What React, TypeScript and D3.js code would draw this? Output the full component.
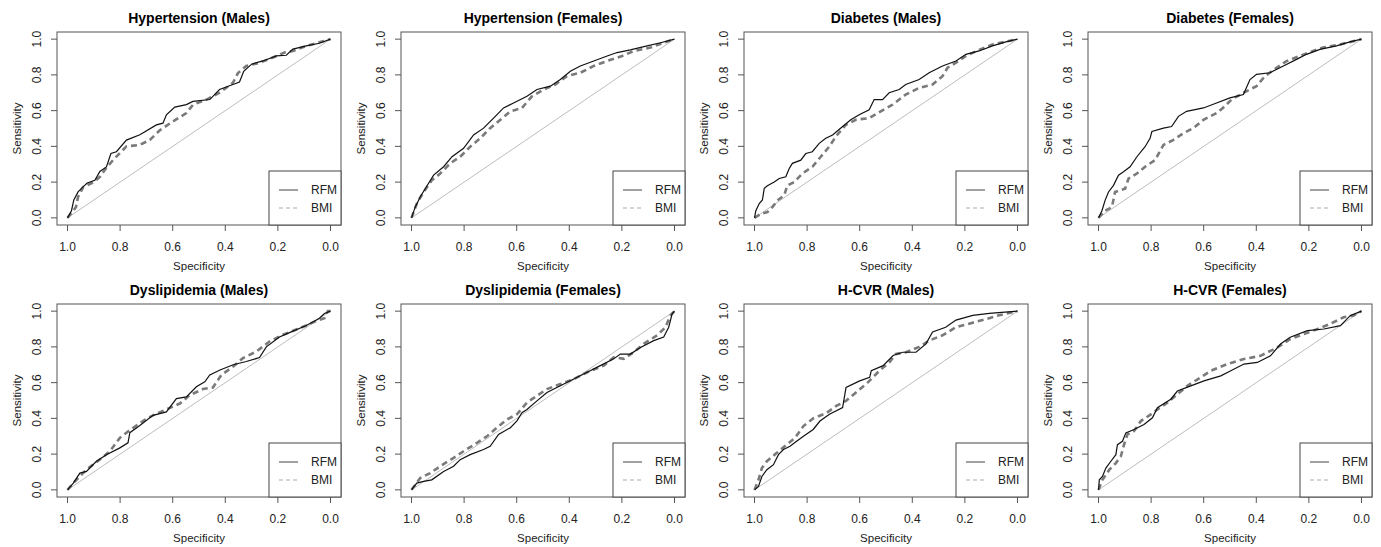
import React from "react";
import * as d3 from "d3";

type Pt = [number, number];

const titles = [
  "Hypertension (Males)", "Hypertension (Females)", "Diabetes (Males)", "Diabetes (Females)",
  "Dyslipidemia (Males)", "Dyslipidemia (Females)", "H-CVR (Males)", "H-CVR (Females)",
];
const seriesNames = ["RFM", "BMI"];
const xTicks = [1.0, 0.8, 0.6, 0.4, 0.2, 0.0];
const yTicks = [0.0, 0.2, 0.4, 0.6, 0.8, 1.0];

// [specificity, sensitivity]
const rfmHtnM: Pt[] = [[1,0],[0.985,0.04],[0.976,0.10],[0.96,0.145],[0.947,0.165],[0.925,0.195],[0.896,0.21],[0.877,0.26],[0.852,0.285],[0.835,0.36],[0.814,0.37],[0.776,0.435],[0.725,0.465],[0.662,0.52],[0.637,0.53],[0.624,0.577],[0.592,0.62],[0.548,0.634],[0.523,0.652],[0.459,0.662],[0.422,0.718],[0.371,0.746],[0.346,0.76],[0.33,0.82],[0.3,0.86],[0.257,0.878],[0.206,0.906],[0.168,0.91],[0.143,0.944],[0.092,0.962],[0.042,0.977],[0,1]];
const bmiHtnM: Pt[] = [[1,0],[0.978,0.04],[0.968,0.06],[0.96,0.117],[0.94,0.173],[0.9,0.2],[0.877,0.23],[0.854,0.276],[0.827,0.323],[0.776,0.4],[0.725,0.408],[0.687,0.436],[0.649,0.49],[0.599,0.54],[0.548,0.586],[0.523,0.633],[0.472,0.662],[0.422,0.7],[0.371,0.756],[0.352,0.81],[0.32,0.85],[0.27,0.868],[0.219,0.897],[0.175,0.925],[0.143,0.934],[0.092,0.962],[0,1]];
const rfmHtnF: Pt[] = [[1,0],[0.986,0.06],[0.967,0.117],[0.944,0.173],[0.916,0.239],[0.878,0.286],[0.846,0.342],[0.802,0.389],[0.764,0.464],[0.726,0.502],[0.688,0.558],[0.65,0.615],[0.612,0.643],[0.561,0.68],[0.523,0.718],[0.472,0.737],[0.434,0.774],[0.396,0.82],[0.358,0.85],[0.307,0.878],[0.256,0.906],[0.218,0.925],[0.168,0.94],[0.104,0.962],[0.053,0.98],[0,1]];
const bmiHtnF: Pt[] = [[1,0],[0.98,0.08],[0.954,0.145],[0.923,0.21],[0.891,0.248],[0.853,0.305],[0.815,0.342],[0.777,0.398],[0.739,0.445],[0.701,0.502],[0.662,0.549],[0.624,0.596],[0.58,0.615],[0.542,0.68],[0.497,0.718],[0.453,0.746],[0.409,0.793],[0.358,0.812],[0.307,0.85],[0.256,0.878],[0.199,0.906],[0.155,0.934],[0.091,0.953],[0.041,0.98],[0,1]];
const rfmDiaM: Pt[] = [[1,0],[0.995,0.04],[0.982,0.08],[0.97,0.1],[0.963,0.165],[0.951,0.18],[0.925,0.2],[0.906,0.22],[0.881,0.23],[0.868,0.276],[0.856,0.305],[0.824,0.323],[0.805,0.36],[0.78,0.37],[0.754,0.417],[0.729,0.445],[0.703,0.464],[0.665,0.511],[0.634,0.549],[0.602,0.577],[0.564,0.605],[0.545,0.662],[0.513,0.662],[0.488,0.7],[0.45,0.718],[0.425,0.746],[0.374,0.774],[0.336,0.812],[0.285,0.85],[0.234,0.878],[0.196,0.915],[0.146,0.934],[0.095,0.962],[0.044,0.985],[0,1]];
const bmiDiaM: Pt[] = [[1,0],[0.976,0.023],[0.951,0.032],[0.932,0.06],[0.913,0.098],[0.887,0.126],[0.875,0.182],[0.849,0.2],[0.818,0.248],[0.78,0.286],[0.748,0.342],[0.716,0.398],[0.691,0.455],[0.653,0.52],[0.615,0.549],[0.564,0.558],[0.52,0.596],[0.475,0.633],[0.425,0.69],[0.374,0.727],[0.323,0.746],[0.285,0.793],[0.266,0.84],[0.234,0.868],[0.196,0.906],[0.146,0.94],[0.095,0.97],[0,1]];
const rfmDiaF: Pt[] = [[1,0],[0.987,0.04],[0.975,0.098],[0.962,0.145],[0.943,0.182],[0.924,0.239],[0.905,0.258],[0.88,0.286],[0.854,0.342],[0.823,0.398],[0.804,0.445],[0.797,0.483],[0.753,0.502],[0.722,0.511],[0.696,0.568],[0.665,0.596],[0.601,0.615],[0.551,0.643],[0.5,0.671],[0.449,0.69],[0.424,0.774],[0.399,0.803],[0.348,0.812],[0.297,0.85],[0.247,0.887],[0.209,0.915],[0.158,0.943],[0.095,0.962],[0.044,0.985],[0,1]];
const bmiDiaF: Pt[] = [[1,0],[0.975,0.04],[0.949,0.06],[0.937,0.145],[0.899,0.163],[0.886,0.22],[0.854,0.248],[0.823,0.286],[0.785,0.323],[0.753,0.408],[0.715,0.436],[0.677,0.474],[0.639,0.502],[0.601,0.549],[0.551,0.586],[0.527,0.615],[0.494,0.662],[0.449,0.7],[0.399,0.737],[0.367,0.793],[0.323,0.84],[0.285,0.877],[0.234,0.906],[0.184,0.934],[0.146,0.953],[0.082,0.97],[0,1]];
const rfmDysM: Pt[] = [[1,0],[0.978,0.038],[0.953,0.094],[0.928,0.103],[0.89,0.16],[0.852,0.197],[0.801,0.235],[0.77,0.263],[0.763,0.32],[0.725,0.36],[0.675,0.417],[0.624,0.436],[0.586,0.511],[0.548,0.52],[0.51,0.577],[0.478,0.605],[0.459,0.643],[0.42,0.671],[0.37,0.7],[0.32,0.718],[0.27,0.74],[0.244,0.8],[0.194,0.855],[0.156,0.88],[0.092,0.92],[0.042,0.96],[0.023,0.987],[0,1]];
const bmiDysM: Pt[] = [[1,0],[0.972,0.047],[0.928,0.113],[0.877,0.17],[0.839,0.216],[0.801,0.291],[0.776,0.32],[0.738,0.36],[0.7,0.398],[0.662,0.426],[0.624,0.45],[0.573,0.483],[0.535,0.53],[0.485,0.564],[0.447,0.573],[0.415,0.643],[0.37,0.69],[0.333,0.737],[0.282,0.774],[0.232,0.83],[0.181,0.868],[0.142,0.89],[0.092,0.92],[0.054,0.945],[0.023,0.96],[0.01,1],[0,1]];
const rfmDysF: Pt[] = [[1,0],[0.98,0.038],[0.954,0.047],[0.923,0.056],[0.878,0.103],[0.84,0.132],[0.815,0.169],[0.777,0.197],[0.726,0.226],[0.701,0.244],[0.669,0.31],[0.624,0.348],[0.599,0.386],[0.58,0.432],[0.561,0.45],[0.523,0.498],[0.485,0.545],[0.434,0.583],[0.383,0.62],[0.332,0.658],[0.282,0.695],[0.231,0.733],[0.206,0.76],[0.168,0.76],[0.129,0.797],[0.079,0.835],[0.041,0.855],[0.022,0.91],[0.009,0.985],[0,1]];
const bmiDysF: Pt[] = [[1,0],[0.967,0.066],[0.929,0.094],[0.891,0.132],[0.84,0.179],[0.802,0.216],[0.751,0.263],[0.713,0.3],[0.675,0.348],[0.637,0.394],[0.599,0.423],[0.561,0.489],[0.523,0.526],[0.485,0.564],[0.434,0.592],[0.383,0.62],[0.332,0.658],[0.269,0.695],[0.231,0.742],[0.193,0.733],[0.155,0.77],[0.117,0.817],[0.066,0.865],[0.034,0.91],[0.015,0.977],[0,1]];
const rfmCvrM: Pt[] = [[1,0],[0.985,0.019],[0.972,0.075],[0.953,0.113],[0.928,0.141],[0.909,0.197],[0.89,0.226],[0.865,0.244],[0.84,0.272],[0.814,0.3],[0.777,0.338],[0.751,0.385],[0.715,0.423],[0.665,0.46],[0.652,0.573],[0.6,0.61],[0.562,0.63],[0.556,0.667],[0.511,0.695],[0.473,0.752],[0.436,0.77],[0.386,0.77],[0.348,0.817],[0.323,0.883],[0.273,0.91],[0.234,0.95],[0.17,0.976],[0.107,0.987],[0,1]];
const bmiCvrM: Pt[] = [[1,0],[0.985,0.056],[0.972,0.122],[0.953,0.16],[0.915,0.207],[0.877,0.254],[0.846,0.291],[0.814,0.357],[0.777,0.4],[0.726,0.43],[0.689,0.47],[0.652,0.498],[0.614,0.545],[0.57,0.6],[0.525,0.667],[0.487,0.714],[0.462,0.761],[0.424,0.77],[0.374,0.8],[0.336,0.835],[0.285,0.865],[0.234,0.91],[0.184,0.93],[0.133,0.95],[0.07,0.977],[0,1]];
const rfmCvrF: Pt[] = [[1,0],[0.997,0.056],[0.985,0.075],[0.972,0.122],[0.953,0.16],[0.934,0.197],[0.928,0.253],[0.909,0.272],[0.896,0.319],[0.865,0.338],[0.827,0.366],[0.795,0.403],[0.776,0.46],[0.725,0.507],[0.7,0.553],[0.649,0.582],[0.599,0.61],[0.535,0.638],[0.497,0.666],[0.447,0.704],[0.396,0.713],[0.346,0.75],[0.308,0.816],[0.271,0.854],[0.206,0.891],[0.143,0.9],[0.08,0.919],[0.042,0.976],[0,1]];
const bmiCvrF: Pt[] = [[1,0],[0.985,0.056],[0.959,0.113],[0.934,0.15],[0.915,0.188],[0.903,0.253],[0.89,0.31],[0.865,0.329],[0.839,0.385],[0.801,0.422],[0.776,0.45],[0.738,0.488],[0.7,0.535],[0.662,0.582],[0.611,0.63],[0.573,0.666],[0.51,0.704],[0.447,0.732],[0.384,0.75],[0.32,0.797],[0.27,0.844],[0.219,0.872],[0.167,0.9],[0.118,0.929],[0.068,0.966],[0.03,0.976],[0,1]];

const rfmCurves = [rfmHtnM, rfmHtnF, rfmDiaM, rfmDiaF, rfmDysM, rfmDysF, rfmCvrM, rfmCvrF];
const bmiCurves = [bmiHtnM, bmiHtnF, bmiDiaM, bmiDiaF, bmiDysM, bmiDysF, bmiCvrM, bmiCvrF];

const colLefts = [57, 401, 744, 1088];
const rowTops = [32, 304];
const BW = 284;
const BH = 193;
const FONT = "Liberation Sans, Arial, Helvetica, sans-serif";

function Panel({ idx }: { idx: number }) {
  const left = colLefts[idx % 4];
  const top = rowTops[Math.floor(idx / 4)];
  const x = d3.scaleLinear().domain([1.04, -0.04]).range([left, left + BW]);
  const y = d3.scaleLinear().domain([-0.04, 1.04]).range([top + BH, top]);
  const line = d3.line<Pt>().x((d) => x(d[0])).y((d) => y(d[1]));
  const bottom = top + BH;
  const legW = 72, legH = 54;
  const lx = left + BW - legW, ly = bottom - legH;
  return (
    <g>
      <text x={left + BW / 2} y={top - 9} textAnchor="middle" fontFamily={FONT} fontWeight="bold" fontSize={14} fill="#000">{titles[idx]}</text>
      <line x1={x(1)} y1={y(0)} x2={x(0)} y2={y(1)} stroke="#bdbdbd" strokeWidth={1} />
      <path d={line(bmiCurves[idx]) || ""} fill="none" stroke="#7a7a7a" strokeWidth={2.6} strokeDasharray="6,4" />
      <path d={line(rfmCurves[idx]) || ""} fill="none" stroke="#111" strokeWidth={1.2} />
      <rect x={left} y={top} width={BW} height={BH} fill="none" stroke="#555" strokeWidth={1} />
      {xTicks.map((t) => (
        <g key={"x" + t}>
          <line x1={x(t)} x2={x(t)} y1={bottom} y2={bottom + 6} stroke="#555" />
          <text x={x(t)} y={bottom + 26} textAnchor="middle" fontFamily={FONT} fontSize={12} fill="#222">{t.toFixed(1)}</text>
        </g>
      ))}
      {yTicks.map((t) => (
        <g key={"y" + t}>
          <line x1={left - 6} x2={left} y1={y(t)} y2={y(t)} stroke="#555" />
          <text transform={`translate(${left - 16},${y(t)}) rotate(-90)`} textAnchor="middle" fontFamily={FONT} fontSize={12} fill="#222">{t.toFixed(1)}</text>
        </g>
      ))}
      <text x={left + BW / 2} y={bottom + 45} textAnchor="middle" fontFamily={FONT} fontSize={11.5} fill="#222">Specificity</text>
      <text transform={`translate(${left - 36},${top + BH / 2}) rotate(-90)`} textAnchor="middle" fontFamily={FONT} fontSize={11.5} fill="#222">Sensitivity</text>
      <rect x={lx} y={ly} width={legW} height={legH} fill="#fff" stroke="#444" strokeWidth={1} />
      <line x1={lx + 10} x2={lx + 29} y1={ly + 19} y2={ly + 19} stroke="#444" strokeWidth={1} />
      <line x1={lx + 10} x2={lx + 29} y1={ly + 37} y2={ly + 37} stroke="#aaa" strokeWidth={1.2} strokeDasharray="4,3" />
      <text x={lx + 42} y={ly + 23} fontFamily={FONT} fontSize={12} fill="#222">{seriesNames[0]}</text>
      <text x={lx + 42} y={ly + 41} fontFamily={FONT} fontSize={12} fill="#222">{seriesNames[1]}</text>
    </g>
  );
}

export default function App() {
  return (
    <svg width={1381} height={547} style={{ position: "absolute", left: 0, top: 0, background: "#fff" }}>
      <rect x={0} y={0} width={1381} height={547} fill="#fff" />
      {titles.map((_, i) => <Panel key={i} idx={i} />)}
    </svg>
  );
}
